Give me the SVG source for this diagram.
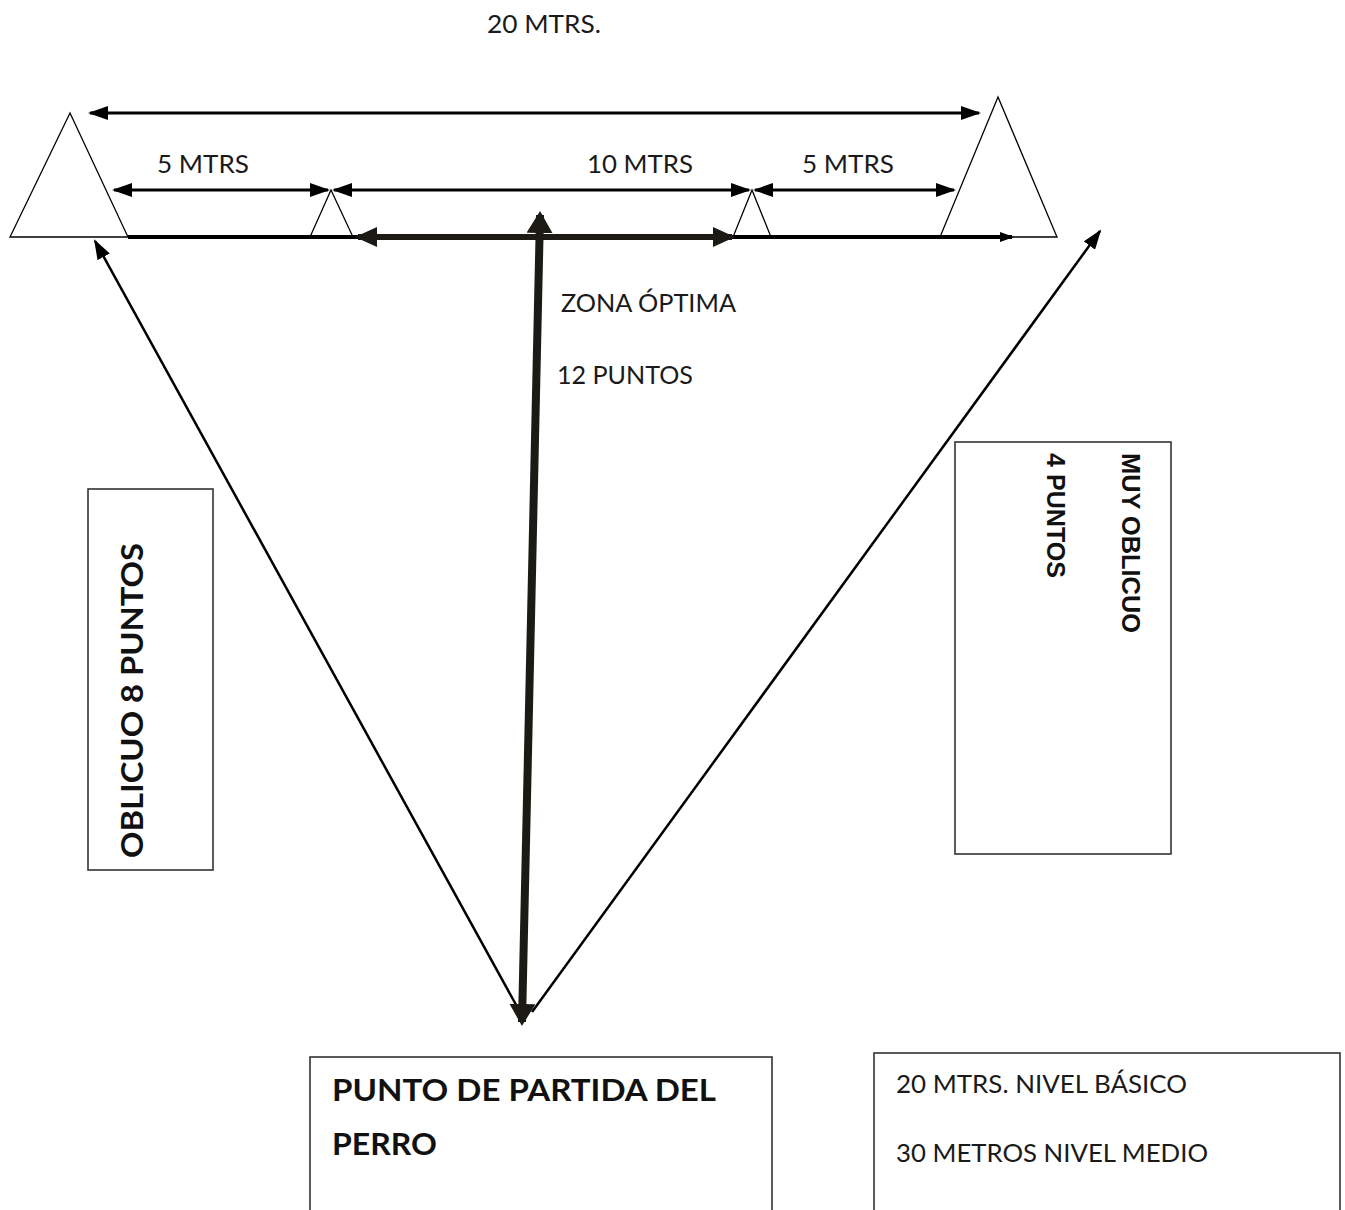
<svg xmlns="http://www.w3.org/2000/svg" width="1345" height="1210" viewBox="0 0 1345 1210">
<style>
.lbl{font-family:Lato,"Open Sans","Liberation Sans",sans-serif;font-size:25px;fill:#1a1a1a}
.bold{font-family:Lato,"Open Sans","Liberation Sans",sans-serif;font-weight:bold;fill:#111}
.arial{font-family:"Liberation Sans",Arial,sans-serif;font-weight:bold;font-size:25px;fill:#111}
.tri{fill:none;stroke:#000;stroke-width:1.3}
.box{fill:#fff;stroke:#333;stroke-width:1.6}
.dim{stroke:#000;stroke-width:3;fill:none}
.thin{stroke:#000;stroke-width:2.5;fill:none}
.bold-arrow{stroke:#1c1a14;stroke-width:6;fill:none}
.vert{stroke:#1c1a14;stroke-width:8;fill:none}
</style>
<defs>
<marker id="ah" markerUnits="userSpaceOnUse" markerWidth="20" markerHeight="14" refX="18" refY="7" orient="auto-start-reverse" viewBox="0 0 20 14">
<path d="M0,0 L20,7 L0,14 z" fill="#000"/>
</marker>
<marker id="ahb" markerUnits="userSpaceOnUse" markerWidth="22" markerHeight="20" refX="19" refY="10" orient="auto-start-reverse" viewBox="0 0 22 20">
<path d="M0,0 L22,10 L0,20 z" fill="#1c1a14"/>
</marker>
<marker id="ahv" markerUnits="userSpaceOnUse" markerWidth="22" markerHeight="26" refX="18" refY="13" orient="auto-start-reverse" viewBox="0 0 22 26">
<path d="M0,0 L22,13 L0,26 z" fill="#1c1a14"/>
</marker>
<marker id="ahs" markerUnits="userSpaceOnUse" markerWidth="14" markerHeight="10" refX="12" refY="5" orient="auto" viewBox="0 0 14 10">
<path d="M0,0 L14,5 L0,10 z" fill="#000"/>
</marker>
</defs>

<g id="cones">
<polygon class="tri" points="70,113 10,237 128,237"/>
<polygon class="tri" points="998,97 940,237 1057,237"/>
<polygon class="tri" points="331,190 310,237 353,237"/>
<polygon class="tri" points="752,190 733,237 771,237"/>
</g>

<g id="connectors">
<line class="dim" x1="90" y1="113" x2="979" y2="113" marker-start="url(#ah)" marker-end="url(#ah)"/>
<line class="dim" x1="114" y1="190" x2="328" y2="190" marker-start="url(#ah)" marker-end="url(#ah)"/>
<line class="dim" x1="334" y1="190" x2="749" y2="190" marker-start="url(#ah)" marker-end="url(#ah)"/>
<line class="dim" x1="755" y1="190" x2="954" y2="190" marker-start="url(#ah)" marker-end="url(#ah)"/>
<line x1="128" y1="237" x2="1012" y2="237" stroke="#000" stroke-width="4" marker-end="url(#ahs)"/>
<line class="bold-arrow" x1="358" y1="237" x2="732" y2="237" marker-start="url(#ahb)" marker-end="url(#ahb)"/>
<line class="thin" x1="520" y1="1012" x2="95" y2="241" marker-end="url(#ah)"/>
<line class="thin" x1="532" y1="1012" x2="1100" y2="231" marker-end="url(#ah)"/>
<line class="vert" x1="522" y1="1022" x2="540" y2="215" marker-start="url(#ahv)" marker-end="url(#ahv)"/>
</g>

<g id="labels">
<text class="lbl" x="487" y="33" textLength="114" lengthAdjust="spacingAndGlyphs">20 MTRS.</text>
<text class="lbl" x="157" y="173" textLength="92" lengthAdjust="spacingAndGlyphs">5 MTRS</text>
<text class="lbl" x="587" y="173" textLength="106" lengthAdjust="spacingAndGlyphs">10 MTRS</text>
<text class="lbl" x="802" y="173" textLength="92" lengthAdjust="spacingAndGlyphs">5 MTRS</text>
<text class="lbl" x="561" y="312" textLength="175" lengthAdjust="spacingAndGlyphs">ZONA ÓPTIMA</text>
<text class="lbl" x="557" y="384" textLength="136" lengthAdjust="spacingAndGlyphs">12 PUNTOS</text>
</g>

<g id="oblicuo">
<rect class="box" x="88" y="489" width="125" height="381"/>
<text class="bold" font-size="31" transform="translate(143,858) rotate(-90)" textLength="315" lengthAdjust="spacingAndGlyphs">OBLICUO 8 PUNTOS</text>
</g>

<g id="muy-oblicuo">
<rect class="box" x="955" y="442" width="216" height="412"/>
<text class="arial" transform="translate(1122,453) rotate(90)" textLength="180" lengthAdjust="spacingAndGlyphs">MUY OBLICUO</text>
<text class="arial" transform="translate(1047,453) rotate(90)" textLength="125" lengthAdjust="spacingAndGlyphs">4 PUNTOS</text>
</g>

<g id="punto-partida">
<rect class="box" x="310" y="1057" width="462" height="170"/>
<text class="bold" font-size="30" x="332" y="1101" textLength="384" lengthAdjust="spacingAndGlyphs">PUNTO DE PARTIDA DEL</text>
<text class="bold" font-size="30" x="332" y="1155" textLength="105" lengthAdjust="spacingAndGlyphs">PERRO</text>
</g>

<g id="niveles">
<rect class="box" x="874" y="1053" width="466" height="175"/>
<text class="lbl" x="896" y="1093" textLength="291" lengthAdjust="spacingAndGlyphs">20 MTRS. NIVEL BÁSICO</text>
<text class="lbl" x="896" y="1162" textLength="312" lengthAdjust="spacingAndGlyphs">30 METROS NIVEL MEDIO</text>
</g>
</svg>
